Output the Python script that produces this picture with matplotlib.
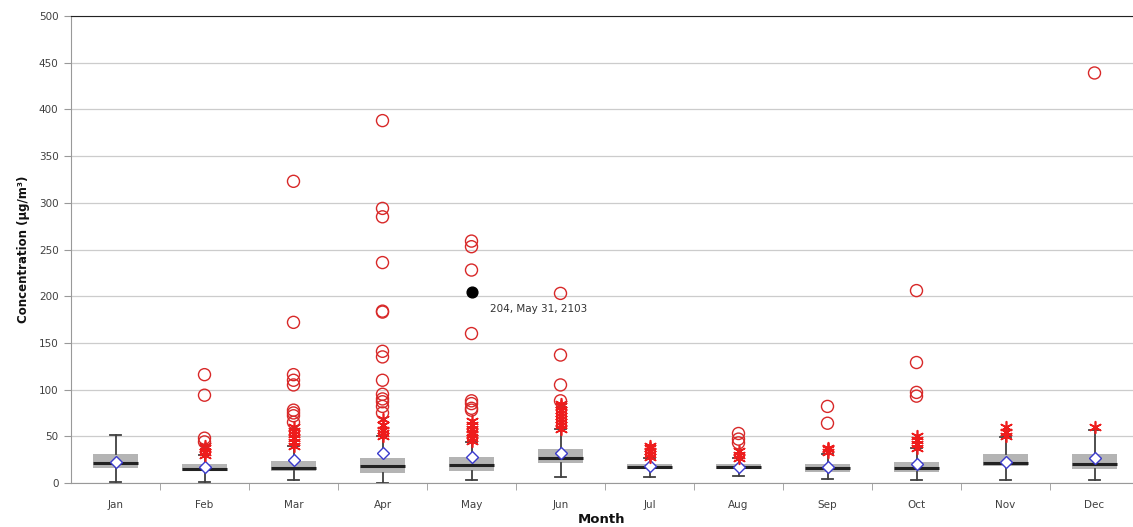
import matplotlib.pyplot as plt
import numpy as np

months = ['Jan', 'Feb', 'Mar', 'Apr', 'May', 'Jun', 'Jul', 'Aug', 'Sep', 'Oct', 'Nov', 'Dec']

# box statistics
q1 = [16, 13, 13, 11, 13, 21, 14.7, 14.7, 12, 11.4, 18.5, 14.7]
med = [21.7, 15, 16.4, 18, 19, 26.4, 17.5, 17.5, 15.7, 16.4, 21.7, 20.3]
q3 = [31, 20, 23.5, 27, 27.5, 36, 20, 20, 20, 22.5, 31, 31]
wlo = [1.5, 1, 3, 0, 3, 6.4, 6.4, 7.8, 4, 3, 3, 3]
whi = [51, 30, 40, 50, 44, 57.5, 27, 27, 31, 37, 49.6, 57]
mean = [22, 17.5, 24.6, 32, 27.5, 31.8, 18.5, 17.5, 17.5, 20.3, 22.8, 26.4]

# mild outliers (asterisks) and extreme outliers (circles)
mild = [
    [],
    [30, 33, 37, 40],
    [40, 44, 48, 52, 56, 60],
    [50, 53, 57, 62, 68],
    [45, 48, 52, 55, 58, 62, 66],
    [58, 62, 65, 68, 72, 75, 78, 82, 85],
    [28, 31, 34, 37, 40],
    [27, 30, 34],
    [33, 36, 38],
    [38, 42, 46, 50],
    [50, 55, 60],
    [60],
]
extreme = [
    [],
    [44, 48, 94, 116],
    [65, 72, 75, 78, 105, 110, 116, 172, 323],
    [75, 82, 87, 90, 95, 110, 135, 141, 183, 184, 236, 285, 294, 388],
    [78, 80, 85, 88, 160, 228, 253, 259],
    [88, 105, 137, 203],
    [],
    [43, 47, 53],
    [64, 82],
    [93, 97, 129, 206],
    [],
    [439],
]
hl_month = 4
hl_value = 204
hl_label = '204, May 31, 2103'

fig = plt.figure(figsize=(11.33, 5.27), dpi=100)
ax = fig.add_axes([71 / 1133, 44 / 527, 1068 / 1133, 467 / 527])

stats = []
for i in range(len(months)):
    stats.append({'q1': q1[i], 'med': med[i], 'q3': q3[i], 'whislo': wlo[i],
                  'whishi': whi[i], 'mean': mean[i], 'fliers': []})

pos = np.arange(len(months))
ax.bxp(stats, positions=pos, widths=0.5, patch_artist=True, showmeans=True,
       showfliers=False,
       boxprops=dict(facecolor='#b4b4b4', edgecolor='none'),
       medianprops=dict(color='#222222', linewidth=2.2),
       whiskerprops=dict(color='#404040', linewidth=1.3),
       capprops=dict(color='#404040', linewidth=1.3),
       capwidths=0.12,
       meanprops=dict(marker='D', markerfacecolor='white', markeredgecolor='#3a3acc',
                      markersize=6.5, markeredgewidth=1.0),
       zorder=3)

for i in range(len(months)):
    if mild[i]:
        ax.scatter([pos[i]] * len(mild[i]), mild[i], marker=(6, 2, 0), s=70,
                   color='#ee1c1c', linewidths=1.2, zorder=4)
    if extreme[i]:
        ax.scatter([pos[i]] * len(extreme[i]), extreme[i], marker='o', s=75,
                   facecolors='none', edgecolors='#d82828', linewidths=1.0, zorder=4)

ax.scatter([hl_month], [hl_value], marker='o', s=60, color='black', zorder=5)
ax.annotate(hl_label, (hl_month, hl_value), xytext=(13, -8), textcoords='offset points',
            fontsize=7.5, color='#333333', va='top', ha='left')

ax.set_xlim(-0.5, len(months) - 0.5)
ax.set_ylim(0, 500)
ax.set_yticks(np.arange(0, 501, 50))
ax.set_xticks(pos)
ax.set_xticklabels(months)
ax.set_xticks(np.arange(0.5, len(months) - 0.5, 1), minor=True)
ax.tick_params(axis='x', which='major', length=0, pad=12, labelsize=7.5, labelcolor='#404040')
ax.tick_params(axis='x', which='minor', length=5, color='#999999', direction='out')
ax.tick_params(axis='y', length=5, color='#999999', labelsize=7.5, labelcolor='#404040', pad=4)

ax.grid(axis='y', color='#cccccc', linewidth=0.9, zorder=0)
ax.set_axisbelow(True)
ax.spines['right'].set_visible(False)
ax.spines['top'].set_color('#222222')
ax.spines['left'].set_color('#999999')
ax.spines['bottom'].set_color('#999999')

ax.set_ylabel('Concentration (µg/m³)', fontsize=8.5, fontweight='bold', color='#111111', labelpad=6)
ax.set_xlabel('Month', fontsize=9.5, fontweight='bold', color='#111111', labelpad=2)
ax.xaxis.set_label_coords(0.497, -0.065)

fig.savefig('out.png', dpi=100)
